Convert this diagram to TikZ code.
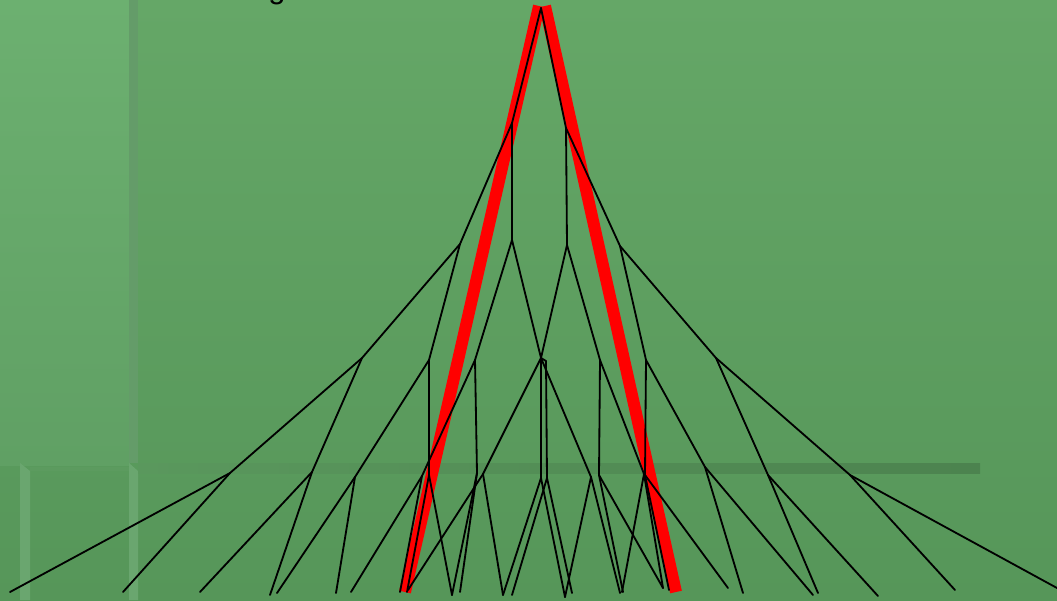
\documentclass[tikz,border=0pt]{standalone}
\usepackage{fontspec}
\setmainfont{Liberation Sans}
\definecolor{bgtop}{RGB}{101,167,103}
\definecolor{bgbot}{RGB}{86,150,89}
\definecolor{paneltop}{RGB}{108,176,112}
\definecolor{panelbot}{RGB}{96,160,100}
\definecolor{edgedark}{RGB}{100,156,105}
\definecolor{edgelight}{RGB}{106,166,111}
\definecolor{rimline}{RGB}{92,155,95}
\definecolor{barleft}{RGB}{90,152,93}
\definecolor{barright}{RGB}{76,131,79}
\begin{document}
\begin{tikzpicture}[x=0.025cm, y=-0.025cm,
          br/.style={draw=black, line width=1.3pt, line cap=round},
          redpath/.style={draw=red, line width=8.5pt}]
        % background panels
        \useasboundingbox (0,0) rectangle (1057,600);
        \shade[top color=bgtop, bottom color=bgbot] (0,0) rectangle (1057,600);
        \shade[top color=paneltop, bottom color=panelbot] (0,0) rectangle (130,465);
        \fill[edgedark] (129,0) rectangle (138,463);
        \fill[edgelight] (129,463) -- (138,471) -- (138,600) -- (129,600) -- cycle;
        \fill[edgelight] (20,463) -- (30,471) -- (30,600) -- (20,600) -- cycle;
        \fill[rimline] (30,467) rectangle (129,471);
        \shade[left color=barleft, right color=barright] (138,463) rectangle (980,473);
        \node[anchor=base west, inner sep=0pt, font=\fontsize{22}{24}\selectfont] (title) at (268,-2) {g};
        % highlighted path (under the branches)
        \coordinate (redtopl) at (539,6);
        \coordinate (redtopr) at (545,6);
        \coordinate (redbotl) at (405,592);
        \coordinate (redbotr) at (676,592);
        \draw[redpath] (redtopl) -- (redbotl);
        \draw[redpath] (redtopr) -- (redbotr);
        % points of the tree
        \foreach \n/\x/\y in {r/541/8, a/512/123, b/566/128,
            aa/460/244, ab/512/240, ba/567/245, bb/620/246,
            aaa/362/358, aab/429/360, aba/475/360, abb/541/358,
            baa/546/361, bab/600/360, bba/646/360, bbb/716/358,
            aaaa/230/473, aaab/312/472, aaba/355/477, aabb/429/475,
            abaa/422/476, abab/477/473, abba/483/474, abbb/541/478,
            baaa/547/478, baab/591/477, baba/599/475, babb/644/474,
            bbaa/645/475, bbab/705/467, bbba/768/475, bbbb/850/475,
            l1/10/592, l2/123/592, l3/200/592, l4/270/595,
            l5/277/593, l6/336/593, l7/351/592, l8/400/592,
            l9/407/592, l10/452/595, l11/460/592, l12/408/590,
            l13/503/595, l14/512/595, l15/565/597, l16/572/593,
            l17/620/593, l18/623/592, l19/663/588, l20/622/592,
            l21/669/590, l22/728/588,
            l25/743/593, l26/813/595, l27/818/593, l28/878/596,
            l29/955/590, l30/1057/588}
          \coordinate (\n) at (\x,\y);
        % branches
        \foreach \p/\c in {r/a, r/b, a/aa, a/ab, b/ba, b/bb,
            aa/aaa, aa/aab, ab/aba, ab/abb, ba/abb, ba/bab,
            bb/bba, bb/bbb, abb/baa,
            aaa/aaaa, aaa/aaab, aab/aaba, aab/aabb, aba/abaa, aba/abab,
            abb/abba, abb/abbb, baa/baaa, abb/baab, bab/baba, bab/babb,
            bba/bbaa, bba/bbab, bbb/bbba, bbb/bbbb,
            aaaa/l1, aaaa/l2, aaab/l3, aaab/l4, aaba/l5, aaba/l6,
            abaa/l7, abaa/l8, aabb/l9, aabb/l10, abab/l10, abab/l11,
            abba/l12, abba/l13, abbb/l13, abbb/l15, baaa/l14, baaa/l16,
            baab/l15, baab/l17, baba/l18, baba/l19,
            babb/l20, babb/l19, bbaa/l21, bbaa/l22,
            bbab/l25, bbab/l26, bbba/l27, bbba/l28, bbbb/l29, bbbb/l30}
          \draw[br] (\p) -- (\c);
      \end{tikzpicture}
\end{document}
